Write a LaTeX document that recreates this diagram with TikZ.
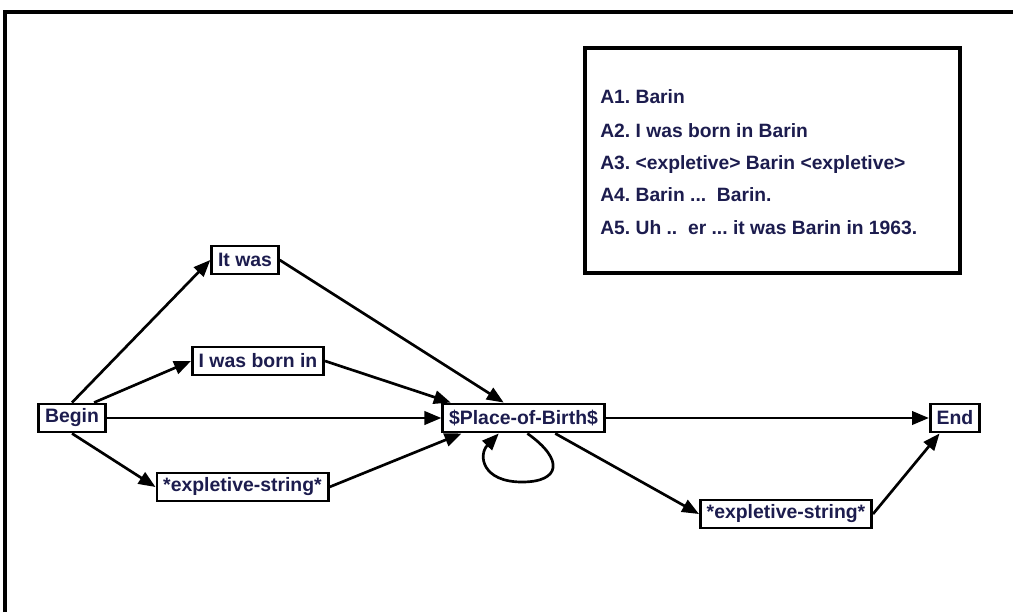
\documentclass[tikz,border=0pt]{standalone}
\usepackage{fontspec}
\setmainfont{Liberation Sans}
\usetikzlibrary{arrows.meta}
\definecolor{inkblue}{RGB}{28,28,78}
\frenchspacing

\begin{document}
\begin{tikzpicture}[
x=0.025cm, y=-0.025cm,
block/.style={
draw,
fill=white,
rectangle,
line width=2pt,
inner xsep=4.5pt,
inner ysep=0pt,
minimum height=20pt,
text=inkblue,
font=\fontsize{13.8}{16}\selectfont\bfseries},
answer/.style={
anchor=base west,
inner sep=0pt,
text=inkblue,
font=\fontsize{13.7}{16}\selectfont\bfseries},
frame/.style={draw, line width=2.4pt},
link/.style={line width=1.9pt, -{Triangle[length=12pt,width=9.5pt]}}
]
\useasboundingbox (0,0) rectangle (1013,612);

% outer frame and answer box
\draw[frame] (5,612) -- (5,12) -- (1013,12);
\draw[frame] (585,48) rectangle (960,273);

\draw (600,103)node[answer](a1){A1. Barin};
\draw (600,137)node[answer](a2){A2. I was born in Barin};
\draw (600,169)node[answer](a3){A3. <expletive> Barin <expletive>};
\draw (600,201)node[answer](a4){A4. Barin ...\ \ Barin.};
\draw (600,234)node[answer](a5){A5. Uh ..\ \ er ... it was Barin in 1963.};

% states
\draw (72,418)node[block](begin){Begin};
\draw (245,260)node[block](itwas){It was};
\draw (258,361)node[block](bornin){I was born in};
\draw (242.5,487)node[block](explA){*expletive-string*};
\draw (523.5,418)node[block](place){\$Place-of-Birth\$};
\draw (955,418)node[block](end){End};
\draw (786,514)node[block](explB){*expletive-string*};

% transitions
\draw[link] (begin.north) -- (itwas.west);
\draw[link] (begin.35) -- (bornin.west);
\draw[link] (begin.east) -- (place.west);
\draw[link] (begin.south) -- (explA.west);
\draw[link] (itwas.east) -- (place.142);
\draw[link] (bornin.east) -- (place.168);
\draw[link] (explA.east) -- (place.194);
\draw[link] (place.284) .. controls (565,460) and (560,482) .. (522,482)
  .. controls (482,482) and (478,455) .. (place.212);
\draw[link] (place.east) -- (end.west);
\draw[link] (place.334) -- (explB.west);
\draw[link] (explB.east) -- (end.225);

\end{tikzpicture}
\end{document}
